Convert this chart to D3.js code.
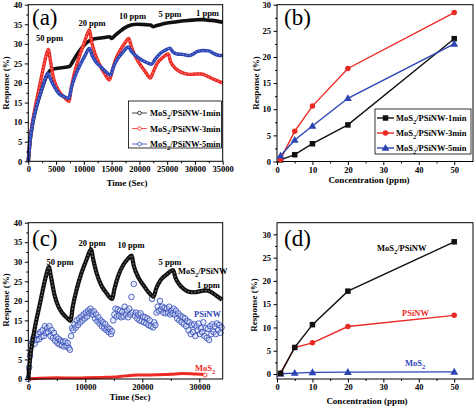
<!DOCTYPE html>
<html><head><meta charset="utf-8">
<script src="https://cdn.jsdelivr.net/npm/d3@7"></script>
<style>
body{margin:0;background:#fff;}
svg text{font-family:"Liberation Serif","Times New Roman",serif;font-weight:bold;}
svg text.plabel{font-weight:normal;}
</style></head>
<body><svg id="c" width="474" height="407"></svg>
<script>
// ---------- DATA ----------
// Panel (a): response vs time [sec, %]
const a1min = [[0,0],[300,5],[700,9],[1200,12.5],[2000,16.5],[2800,20],[3500,22.3],[4000,23.3],[5000,23.7],[6000,23.9],[7000,24.1],[7500,24.3],[8000,25.5],[9000,27.8],[10000,29.6],[11000,30.8],[12000,31.3],[13000,31.5],[14000,31.7],[14700,31.8],[15000,31.4],[15500,32],[16500,33.2],[17500,34.2],[18500,34.8],[19500,35],[21000,34.9],[22000,34.8],[22500,34.4],[23000,34.6],[24000,35],[25000,35.3],[26000,35.5],[27000,35.7],[28000,35.9],[29000,36],[30000,36.1],[31000,36.2],[32000,36.1],[33000,36],[34000,35.8],[35000,35.5]];
const a3min = [[0,0],[300,5],[700,9.5],[1200,13.5],[2000,19],[2800,24.5],[3300,27.5],[3600,28.6],[4000,25.5],[4500,21.5],[5000,19.3],[5700,17.5],[6500,16.3],[7300,15.3],[7700,18.5],[8300,22.5],[9000,26],[10000,30],[10700,32.8],[11000,33.6],[11400,30.5],[12000,27.5],[12800,24.8],[13700,22.5],[14600,20.8],[15000,22.5],[15600,25.5],[16400,28],[17300,30],[18100,31.4],[18500,29.5],[19200,27],[20000,25],[21000,23],[22000,21.3],[22400,22.5],[23200,25],[24200,26.5],[25200,27.4],[25600,25.5],[26300,24],[27200,23],[28200,22.4],[29200,22.2],[30200,22.3],[31200,22.3],[32000,21.9],[33000,21.2],[34000,20.6],[35000,20]];
const a5min = [[0,0],[300,5],[700,9],[1200,12.5],[2000,16.5],[2800,20],[3500,22.5],[4000,21],[4700,19],[5500,17.3],[6300,16.6],[7300,16.1],[7800,19],[8500,22],[9300,24.5],[10200,27],[11000,28.8],[11500,27],[12200,25.3],[13000,24.2],[14000,22.8],[14800,22],[15300,24],[16000,26],[17000,27.8],[18000,29.2],[18600,28],[19500,26.8],[20500,25.8],[21500,25.1],[22200,24.8],[22800,26],[23700,27.5],[24700,28.4],[25500,28.9],[26000,28],[26800,27.4],[27800,27.3],[29000,27],[29800,27.5],[30500,28.1],[31500,28.3],[32500,28.2],[33300,27.6],[34200,27.1],[35000,27]];
const seriesNamesA = ["1min","3min","5min"];
const ppmLabels = ["50 ppm","20 ppm","10 ppm","5 ppm","1 ppm"];

// Panel (b): response vs concentration
const conc = [1,5,10,20,50];
const b1min = [0.3,1.3,3.4,7.0,23.5];
const b3min = [0.4,5.8,10.6,17.8,28.5];
const b5min = [1.1,4.1,6.8,12.1,22.5];

// Panel (c): response vs time
const cHybrid = [[0,0],[300,5],[700,9.5],[1200,13.5],[2000,19],[2800,24.5],[3300,27.5],[3600,28.7],[4000,26],[4600,21.5],[5200,18.8],[6000,16.8],[6800,15.6],[7400,14.9],[7800,18.5],[8500,23],[9300,27],[10200,30.5],[11000,33.2],[11400,30.5],[12000,27],[12800,24],[13700,22],[14700,20.5],[15100,23],[15800,26.5],[16700,29.3],[17500,30.8],[18100,31.6],[18500,29],[19300,26],[20200,24],[21200,22],[22000,21.1],[22400,23],[23200,25.3],[24300,26.8],[25400,27.9],[25800,26],[26500,24.2],[27300,23],[28200,22.3],[29200,22.2],[30200,22.5],[31200,22.7],[32000,22.3],[33000,21.3],[34000,20.3]];
const cMoS2 = [[0,0],[2000,0.2],[5000,0.3],[8000,0.25],[10000,0.3],[13000,0.4],[15000,0.5],[17000,0.8],[19000,1.0],[21000,1.0],[23000,1.1],[25000,1.2],[27000,1.4],[29000,1.3],[30500,1.2],[31000,1.0]];
const cPSiNW = [[0,0],[150,3],[300,6],[500,8.5],[700,9.5],[900,10.5],[1100,9],[1300,11],[1500,10],[1700,11.5],[1900,10.2],[2100,12],[2300,10.8],[2500,12.5],[2700,11],[2900,13.5],[3100,11.8],[3300,13],[3500,12],[3700,13.5],
[3900,11],[4100,12.5],[4300,10.5],[4500,11.8],[4700,9.8],[4900,10.8],[5100,9.2],[5300,10.3],[5500,8.8],[5700,9.8],[5900,8.6],[6100,9.5],[6300,8.3],[6500,9.6],[6700,8.5],[6900,9.2],[7100,8],[7300,7.5],
[7500,11],[7700,13],[7900,12.5],[8100,14],[8300,13.2],[8500,15],[8700,13.8],[8900,15.5],[9100,14.5],[9300,16],[9500,15],[9700,16.5],[9900,15.5],[10100,17],[10300,16],[10500,17.5],[10700,16.8],[10900,18],[11100,17.2],
[11300,16.5],[11500,17.3],[11700,15.5],[11900,16.5],[12100,14.8],[12300,15.8],[12500,14.2],[12700,15],[12900,13.5],[13100,14.5],[13300,13],[13500,14],[13700,12.5],[13900,13.2],[14100,12],[14300,12.8],[14500,11.5],[14700,12.2],
[14900,15],[15100,16.5],[15300,18],[15500,16],[15700,17.8],[15900,16.2],[16100,17.5],[16300,15.8],[16500,17.2],[16700,16],[16900,18.5],[17100,16.5],[17300,17.5],[17500,15.8],[17700,18],[17900,16.5],[18100,21],[18300,17],[18500,24.3],[18700,16.2],
[18900,17],[19100,15.5],[19300,16.5],[19500,15],[19700,16.8],[19900,14.8],[20100,16],[20300,14.5],[20500,15.8],[20700,14.2],[20900,15.5],[21100,13.8],[21300,15],[21500,13.5],[21700,20.5],[21900,13.2],[22100,14.5],[22300,13.8],
[22500,17],[22700,18.5],[22900,17.5],[23100,20],[23300,17.8],[23500,18.5],[23700,17],[23900,18.2],[24100,16.8],[24300,18],[24500,17],[24700,18.5],[24900,16.5],[25100,17.5],[25300,16.8],[25500,18],
[25700,16.5],[25900,17.5],[26100,15.5],[26300,16.8],[26500,15],[26700,16.2],[26900,14.5],[27100,15.8],[27300,14],[27500,15.5],[27700,13.5],[27900,14.8],[28100,12.5],[28300,14.5],[28500,11.5],[28700,13.8],[28900,12],[29100,14],[29300,11],[29500,13.5],[29700,12.5],[29900,14.2],[30100,11.5],[30300,13],[30500,12],[30700,14.5],[30900,11],[31100,13],[31300,10.5],[31500,12.8],[31700,10],[31900,13.5],[32100,11.5],[32300,14],[32500,12],[32700,13.5],[32900,11.5],[33100,14.2],[33300,12.5],[33500,13.8],[33700,11.8],[33900,13.2]];

// Panel (d): response vs concentration
const dHybrid = [0.1,5.7,10.6,17.8,28.4];
const dPSiNW = [0.2,5.7,6.7,10.2,12.6];
const dMoS2 = [0.05,0.2,0.35,0.4,0.45];

// ---------- DRAW ----------
const svg = d3.select("#c");
const BLACK="#111", RED="#ec2a24", BLUE="#2b45b5";
const FONT_TICK=8.5;

function axes(g, x, y, xt, xm, yt, ym){
  const [x0,x1]=x.range(), [y0,y1]=y.range();
  const ax = g.append("g").attr("transform",`translate(0,${y0})`)
    .call(d3.axisBottom(x).tickValues(xt).tickSize(3.5).tickPadding(1.5).tickSizeOuter(0).tickFormat(d3.format("d")));
  const axm = g.append("g").attr("transform",`translate(0,${y0})`)
    .call(d3.axisBottom(x).tickValues(xm).tickSize(2).tickSizeOuter(0).tickFormat(""));
  const ay = g.append("g").attr("transform",`translate(${x0},0)`)
    .call(d3.axisLeft(y).tickValues(yt).tickSize(3.5).tickPadding(2.5).tickSizeOuter(0).tickFormat(d3.format("d")));
  const aym = g.append("g").attr("transform",`translate(${x0},0)`)
    .call(d3.axisLeft(y).tickValues(ym).tickSize(2).tickSizeOuter(0).tickFormat(""));
  [ax,axm,ay,aym].forEach(s=>{s.select(".domain").remove(); s.selectAll("line").attr("stroke","#000");
    s.selectAll("text").attr("font-size",FONT_TICK).attr("fill","#000");});
  g.append("rect").attr("x",x0).attr("y",y1).attr("width",x1-x0).attr("height",y0-y1)
    .attr("fill","none").attr("stroke","#000").attr("stroke-width",1);
}
function title(g,x,y,txt,rot){
  const t=g.append("text").attr("text-anchor","middle").attr("font-size",9).attr("fill","#000").text(txt);
  if(rot) t.attr("transform",`translate(${x},${y}) rotate(-90)`); else t.attr("x",x).attr("y",y);
}
function mos(g,x,y,after,color,size,anchor){
  const t=g.append("text").attr("x",x).attr("y",y).attr("font-size",size).attr("fill",color).attr("text-anchor",anchor||"start");
  t.append("tspan").text("MoS");
  t.append("tspan").text("2").attr("dy",size*0.3).attr("font-size",size*0.75);
  if(after) t.append("tspan").text(after).attr("dy",-size*0.3);
  return t;
}
function label(g,x,y,txt){
  g.append("text").attr("class","plabel").attr("x",x).attr("y",y).attr("font-size",23).attr("fill","#000").text(txt);
}
function thickLine(g, data, x, y, color, w, inner){
  const line=d3.line().x(d=>x(d[0])).y(d=>y(d[1])).curve(d3.curveMonotoneX);
  g.append("path").datum(data).attr("d",line).attr("fill","none").attr("stroke",color).attr("stroke-width",w).attr("stroke-linejoin","round");
  if(inner) g.append("path").datum(data).attr("d",line).attr("fill","none").attr("stroke",inner).attr("stroke-width",0.8).attr("stroke-dasharray","1.5 2").attr("opacity",0.8);
}
function marker(g, type, cx, cy, color, s){
  if(type==="sq") g.append("rect").attr("x",cx-s/2).attr("y",cy-s/2).attr("width",s).attr("height",s).attr("fill",color);
  else if(type==="ci") g.append("circle").attr("cx",cx).attr("cy",cy).attr("r",s/2).attr("fill",color);
  else g.append("path").attr("d",d3.symbol(d3.symbolTriangle, s*s*0.55)()).attr("transform",`translate(${cx},${cy+0.5})`).attr("fill",color);
}
function scatterLine(g, xs, ys, x, y, color, type){
  g.append("path").datum(xs.map((v,i)=>[v,ys[i]])).attr("d",d3.line().x(d=>x(d[0])).y(d=>y(d[1])))
    .attr("fill","none").attr("stroke",color).attr("stroke-width",1.4);
  xs.forEach((v,i)=>marker(g,type,x(v),y(ys[i]),color,type==="tr"?7:5.5));
}

// ----- Panel (a) -----
{
  const g=svg.append("g");
  const x=d3.scaleLinear().domain([0,35000]).range([28.3,222.7]);
  const y=d3.scaleLinear().domain([0,40]).range([161.3,4.7]);
  thickLine(g,a1min,x,y,BLACK,3.6,null);
  thickLine(g,a3min,x,y,RED,3.4,"#ffd0d0");
  thickLine(g,a5min,x,y,BLUE,3.4,"#a8b4f0");
  axes(g,x,y,d3.range(0,35001,5000),d3.range(2500,35000,5000),d3.range(0,41,5),d3.range(2.5,40,5));
  title(g,127,186,"Time (Sec)");
  title(g,9,83,"Response (%)",true);
  label(g,32,25,"(a)");
  const pos=[[49.5,41],[92,26],[132.5,19],[170,17],[207.5,16]];
  ppmLabels.forEach((t,i)=>g.append("text").attr("x",pos[i][0]).attr("y",pos[i][1]).attr("text-anchor","middle").attr("font-size",8.5).attr("fill","#000").text(t));
  // legend
  g.append("rect").attr("x",128.5).attr("y",101).attr("width",93).attr("height",47).attr("fill","#fff").attr("stroke","#000").attr("stroke-width",0.8);
  [[BLACK,"1min"],[RED,"3min"],[BLUE,"5min"]].forEach((s,i)=>{
    const yy=113+i*15.5;
    g.append("line").attr("x1",132).attr("x2",147).attr("y1",yy).attr("y2",yy).attr("stroke",s[0]).attr("stroke-width",0.8);
    g.append("circle").attr("cx",139.5).attr("cy",yy).attr("r",1.8).attr("fill","#fff").attr("stroke",s[0]).attr("stroke-width",0.8);
    mos(g,150,yy+3,"/PSiNW-"+s[1],"#000",8.5);
  });
}
// ----- Panel (b) -----
{
  const g=svg.append("g");
  const x=d3.scaleLinear().domain([0,55.3]).range([277,473]);
  const y=d3.scaleLinear().domain([0,30]).range([161.5,4.7]);
  axes(g,x,y,d3.range(0,51,10),d3.range(5,55,10),d3.range(0,31,5),d3.range(2.5,30,5));
  scatterLine(g,conc,b1min,x,y,BLACK,"sq");
  scatterLine(g,conc,b3min,x,y,RED,"ci");
  scatterLine(g,conc,b5min,x,y,BLUE,"tr");
  title(g,369,183,"Concentration (ppm)");
  title(g,259,83,"Response (%)",true);
  label(g,284,25,"(b)");
  g.append("rect").attr("x",375).attr("y",109).attr("width",96).attr("height",45).attr("fill","#fff").attr("stroke","#000").attr("stroke-width",0.8);
  [[BLACK,"1min","sq"],[RED,"3min","ci"],[BLUE,"5min","tr"]].forEach((s,i)=>{
    const yy=118+i*15;
    g.append("line").attr("x1",377).attr("x2",394).attr("y1",yy).attr("y2",yy).attr("stroke",s[0]).attr("stroke-width",1.4);
    marker(g,s[2],385.5,yy,s[0],s[2]==="tr"?7:5.5);
    mos(g,396,yy+3,"/PSiNW-"+s[1],"#000",8.5);
  });
}
// ----- Panel (c) -----
{
  const g=svg.append("g");
  const x=d3.scaleLinear().domain([0,34100]).range([28.3,222.7]);
  const y=d3.scaleLinear().domain([0,40]).range([379,222.7]);
  g.selectAll("circle.ps").data(cPSiNW).join("circle").attr("class","ps")
    .attr("cx",d=>x(d[0])).attr("cy",d=>y(d[1])).attr("r",2.8)
    .attr("fill","rgba(200,210,245,0.4)").attr("stroke",BLUE).attr("stroke-width",0.8);
  thickLine(g,cMoS2,x,y,RED,3,null);
  const last=cMoS2[cMoS2.length-1];
  g.append("circle").attr("cx",x(last[0])).attr("cy",y(last[1])).attr("r",2).attr("fill","#fff").attr("stroke",RED).attr("stroke-width",0.8);
  thickLine(g,cHybrid,x,y,BLACK,4.2,"#ccc");
  axes(g,x,y,d3.range(0,30001,10000),d3.range(5000,34100,10000),d3.range(0,41,5),d3.range(2.5,40,5));
  title(g,130,400,"Time (Sec)");
  title(g,9,300,"Response (%)",true);
  label(g,32,246,"(c)");
  const pos=[[60,265],[92,246],[131,248],[170,265]];
  ppmLabels.slice(0,4).forEach((t,i)=>g.append("text").attr("x",pos[i][0]).attr("y",pos[i][1]).attr("text-anchor","middle").attr("font-size",8.5).attr("fill","#000").text(t));
  mos(g,178,274,"/PSiNW","#000",8.5);
  g.append("text").attr("x",208.5).attr("y",288).attr("text-anchor","middle").attr("font-size",8.5).attr("fill","#000").text("1 ppm");
  g.append("text").attr("x",194).attr("y",317).attr("font-size",8.5).attr("fill",BLUE).text("PSiNW");
  mos(g,195,371,"",RED,8.5);
}
// ----- Panel (d) -----
{
  const g=svg.append("g");
  const x=d3.scaleLinear().domain([0,55.3]).range([277,473]);
  const y=d3.scaleLinear().domain([-1.07,32.5]).range([379,222.7]);
  axes(g,x,y,d3.range(0,51,10),d3.range(5,55,10),d3.range(0,31,5),d3.range(2.5,31,5));
  scatterLine(g,conc,dMoS2,x,y,BLUE,"tr");
  scatterLine(g,conc,dPSiNW,x,y,RED,"ci");
  scatterLine(g,conc,dHybrid,x,y,BLACK,"sq");
  title(g,367,404,"Concentration (ppm)");
  title(g,257,305,"Response (%)",true);
  label(g,284,246,"(d)");
  mos(g,377,251,"/PSiNW","#000",8.5);
  g.append("text").attr("x",402).attr("y",316).attr("font-size",8.5).attr("fill",RED).text("PSiNW");
  mos(g,405,366,"",BLUE,8.5);
}
</script></body></html>
